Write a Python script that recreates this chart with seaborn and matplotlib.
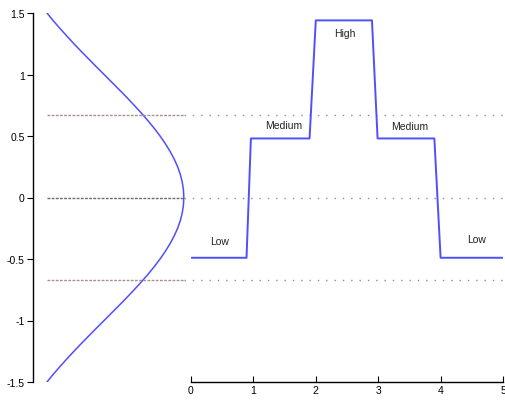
import matplotlib
matplotlib.use("Agg")
import matplotlib.pyplot as plt
import seaborn as sns
import pandas as pd

# Left panel: bell-shaped curve (value vs density)
curve_half_y = [0.0, 0.0625, 0.125, 0.1875, 0.25, 0.3125, 0.375, 0.4375, 0.5, 0.5625,
                0.625, 0.6875, 0.75, 0.8125, 0.875, 0.9375, 1.0, 1.0625, 1.125, 1.1875,
                1.25, 1.3125, 1.375, 1.4375, 1.5]
curve_half_x = [0.3989, 0.3981, 0.3958, 0.3920, 0.3867, 0.3799, 0.3718, 0.3625, 0.3521, 0.3406,
                0.3282, 0.3150, 0.3011, 0.2869, 0.2721, 0.2570, 0.2420, 0.2268, 0.2119, 0.1970,
                0.1826, 0.1686, 0.1550, 0.1418, 0.1295]
curve_y = [-v for v in curve_half_y[::-1]] + curve_half_y[1:]
curve_x = curve_half_x[::-1] + curve_half_x[1:]

# Quartile boundaries
bounds = [-0.674, 0.0, 0.674]

# Right panel: step function
step_x = [0.0, 0.89, 0.96, 1.90, 2.00, 2.90, 2.99, 3.90, 4.00, 5.0]
step_y = [-0.49, -0.49, 0.48, 0.48, 1.44, 1.44, 0.48, 0.48, -0.49, -0.49]

# Labels
label_text = ["Low", "Medium", "High", "Medium", "Low"]
label_x = [0.46, 1.48, 2.46, 3.51, 4.57]
label_y = [-0.35, 0.59, 1.34, 0.58, -0.34]

x_ticks = [0, 1, 2, 3, 4, 5]
y_ticks = [-1.5, -1, -0.5, 0, 0.5, 1, 1.5]
y_ticklabels = ["-1.5", "-1", "-0.5", "0", "0.5", "1", "1.5"]

sns.set_style("white")
plt.rcParams['font.family'] = ['Liberation Sans', 'DejaVu Sans']

W, H = 506, 402
fig = plt.figure(figsize=(W / 100, H / 100), dpi=100)
bottom = (H - 383) / H
height = 369 / H
ax1 = fig.add_axes([33 / W, bottom, (191 - 33) / W, height])
ax2 = fig.add_axes([191 / W, bottom, 312 / W, height], sharey=ax1)

blue = "#4f4fff"

# left panel
cdf = pd.DataFrame({"x": curve_x, "y": curve_y})
sns.lineplot(data=cdf, x="x", y="y", sort=False, estimator=None, ax=ax1,
             color=blue, linewidth=1.1)
for b in bounds:
    col = "#607060" if b == 0 else "#a89090"
    ax1.hlines(b, min(curve_x), max(curve_x), colors=col, linewidth=1.0,
               linestyles=(0, (2, 1)))
ax1.set_xlim(0.102, 0.413)
ax1.set_ylim(-1.5, 1.5)
ax1.set_xticks([])
ax1.set_yticks(y_ticks)
ax1.set_yticklabels(y_ticklabels)
for s in ["top", "right", "bottom"]:
    ax1.spines[s].set_visible(False)
ax1.spines["left"].set_color("black")
ax1.spines["left"].set_linewidth(1.0)
ax1.tick_params(axis="y", direction="out", length=4, width=0.8, pad=2,
                labelsize=7.5, left=True, colors="black")
ax1.set_xlabel("")
ax1.set_ylabel("")

# right panel
sdf = pd.DataFrame({"x": step_x, "y": step_y})
for b in bounds:
    ax2.plot([-0.11, 5.03], [b, b], color="#8090b0", linewidth=1.0,
             linestyle=(0, (1, 5)), clip_on=False)
sns.lineplot(data=sdf, x="x", y="y", sort=False, estimator=None, ax=ax2,
             color=blue, linewidth=1.4)
for t, x, y in zip(label_text, label_x, label_y):
    ax2.text(x, y, t, ha="center", va="center", fontsize=7.5, color="#222222")
ax2.set_xlim(0, 5)
ax2.set_xticks(x_ticks)
ax2.set_xticklabels([str(v) for v in x_ticks])
for s in ["top", "right", "left"]:
    ax2.spines[s].set_visible(False)
ax2.spines["bottom"].set_color("black")
ax2.spines["bottom"].set_linewidth(1.0)
ax2.tick_params(axis="x", direction="in", length=4, width=0.8, pad=2,
                labelsize=7.5, bottom=True, colors="black")
ax2.tick_params(axis="y", left=False, labelleft=False)
ax2.set_xlabel("")
ax2.set_ylabel("")
ax2.patch.set_alpha(0)
ax1.patch.set_alpha(0)

fig.savefig("out.png", dpi=100, facecolor="white")
